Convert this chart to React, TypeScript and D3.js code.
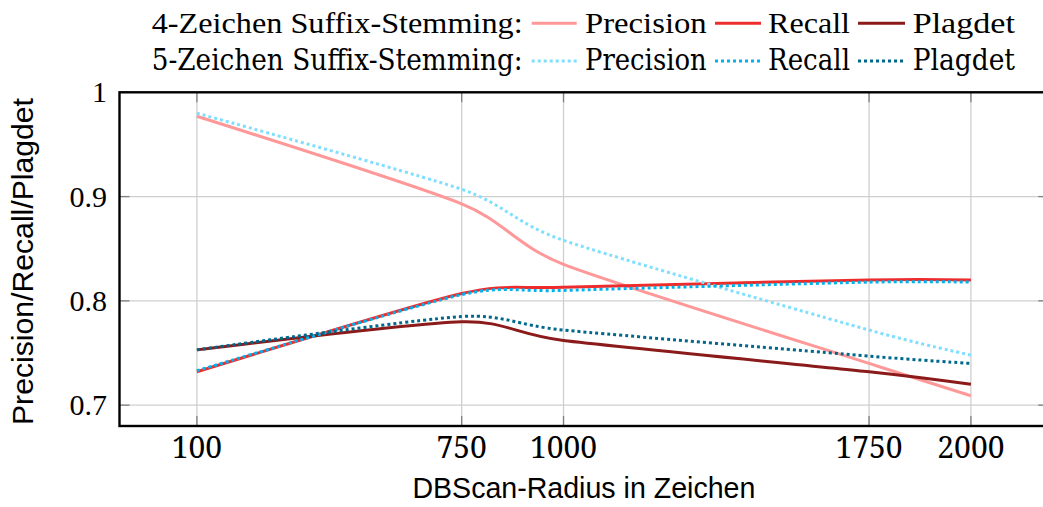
import React from "react";
import * as d3 from "d3";

const xValues = [100, 750, 1000, 1750, 2000];
const xTicks = [100, 750, 1000, 1750, 2000];
const yTicks = [0.7, 0.8, 0.9, 1];
const yTickLabels = ["0.7", "0.8", "0.9", "1"];

const prec4 = [0.977, 0.893, 0.835, 0.740, 0.709];
const recall4 = [0.732, 0.807, 0.813, 0.820, 0.820];
const plagdet4 = [0.753, 0.780, 0.762, 0.732, 0.720];
const prec5 = [0.980, 0.907, 0.858, 0.772, 0.748];
const recall5 = [0.733, 0.806, 0.810, 0.818, 0.818];
const plagdet5 = [0.753, 0.785, 0.772, 0.747, 0.740];

const rowLabels = ["4-Zeichen Suffix-Stemming:", "5-Zeichen Suffix-Stemming:"];
const metricLabels = ["Precision", "Recall", "Plagdet"];

const series = [
  { values: prec4, color: "#ff9898", dotted: false },
  { values: recall4, color: "#ee2c2c", dotted: false },
  { values: plagdet4, color: "#8b1a1a", dotted: false },
  { values: prec5, color: "#80dfff", dotted: true },
  { values: recall5, color: "#00b2ee", dotted: true },
  { values: plagdet5, color: "#00688b", dotted: true },
];

const W = 1043;
const H = 507;
const left = 119.5;
const right = 1048.3;
const top = 92.3;
const bottom = 426;

const serifA = "Liberation Serif";
const serifB = "DejaVu Serif";
const serifC = "Noto Serif, Tinos, Times New Roman";
const sans = "Liberation Sans, Arial, sans-serif";

export default function App() {
  const x = d3.scaleLinear().domain([-90, 2190]).range([left, right]);
  const y = d3.scaleLinear().domain([0.68, 1.0]).range([bottom, top]);
  const line = d3
    .line<[number, number]>()
    .x((d) => x(d[0]))
    .y((d) => y(d[1]))
    .curve(d3.curveCardinal.tension(0.3));

  const rowBase = [33.3, 70];
  const rowLine = [23.3, 61];
  const rowFont = [serifA, serifB];
  const lineX = [
    [531.7, 576.7],
    [715, 761],
    [858, 905],
  ];
  const textX = [
    [585, 121.7],
    [768, 82],
    [912.7, 102.3],
  ];

  return (
    <svg
      width={W}
      height={H}
      style={{ position: "absolute", left: 0, top: 0, background: "#fff" }}
    >
      {xTicks.map((t) => (
        <line key={"gx" + t} x1={x(t)} x2={x(t)} y1={top} y2={bottom} stroke="#cfcfcf" strokeWidth={1.3} />
      ))}
      {yTicks.map((t) => (
        <line key={"gy" + t} x1={left} x2={right} y1={y(t)} y2={y(t)} stroke="#cfcfcf" strokeWidth={1.3} />
      ))}
      {xTicks.map((t) => (
        <g key={"tx" + t}>
          <line x1={x(t)} x2={x(t)} y1={bottom} y2={bottom - 10} stroke="#808080" strokeWidth={1.3} />
          <line x1={x(t)} x2={x(t)} y1={top} y2={top + 10} stroke="#808080" strokeWidth={1.3} />
        </g>
      ))}
      {yTicks.map((t) => (
        <g key={"ty" + t}>
          <line x1={left} x2={left + 10} y1={y(t)} y2={y(t)} stroke="#808080" strokeWidth={1.3} />
          <line x1={right} x2={right - 10} y1={y(t)} y2={y(t)} stroke="#808080" strokeWidth={1.3} />
        </g>
      ))}
      {series.map((s, i) => (
        <path
          key={"s" + i}
          d={line(xValues.map((xv, j) => [xv, s.values[j]] as [number, number])) || ""}
          fill="none"
          stroke={s.color}
          strokeWidth={3}
          strokeDasharray={s.dotted ? "3 3" : undefined}
        />
      ))}
      <rect x={left} y={top} width={right - left} height={bottom - top} fill="none" stroke="#000" strokeWidth={2.4} />
      {xTicks.map((t) => (
        <text key={"lx" + t} x={x(t)} y={458} textAnchor="middle" fontFamily={serifC} fontSize={30}>
          {String(t)}
        </text>
      ))}
      {yTicks.map((t, i) => (
        <text key={"ly" + t} x={107} y={y(t) + 10} textAnchor="end" fontFamily="serif" fontSize={30}>
          {yTickLabels[i]}
        </text>
      ))}
      <text x={(left + right) / 2} y={498} textAnchor="middle" fontFamily={sans} fontSize={29} textLength={343} lengthAdjust="spacingAndGlyphs">
        DBScan-Radius in Zeichen
      </text>
      <text
        transform={`translate(33,${(98 + 425) / 2}) rotate(-90)`}
        textAnchor="middle"
        fontFamily={sans}
        fontSize={29}
        textLength={327}
        lengthAdjust="spacingAndGlyphs"
      >
        Precision/Recall/Plagdet
      </text>
      {rowLabels.map((lab, r) => (
        <g key={"row" + r}>
          <text x={151.7} y={rowBase[r]} fontFamily={rowFont[r]} fontSize={30} textLength={371} lengthAdjust="spacingAndGlyphs">
            {lab}
          </text>
          {metricLabels.map((m, k) => {
            const s = series[r * 3 + k];
            return (
              <g key={"m" + k}>
                <line
                  x1={lineX[k][0]}
                  x2={lineX[k][1]}
                  y1={rowLine[r]}
                  y2={rowLine[r]}
                  stroke={s.color}
                  strokeWidth={3}
                  strokeDasharray={s.dotted ? "3 3" : undefined}
                />
                <text x={textX[k][0]} y={rowBase[r]} fontFamily={rowFont[r]} fontSize={30} textLength={textX[k][1]} lengthAdjust="spacingAndGlyphs">
                  {m}
                </text>
              </g>
            );
          })}
        </g>
      ))}
    </svg>
  );
}
